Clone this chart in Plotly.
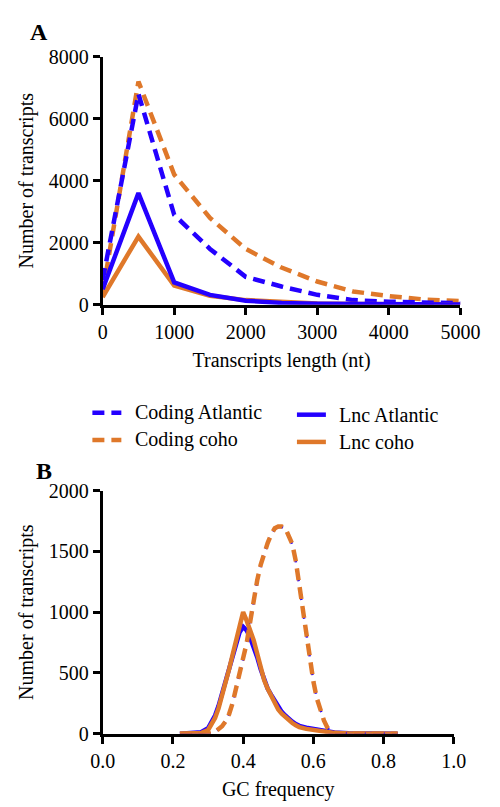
import plotly.graph_objects as go

# ---- Panel A: transcript length distribution ----
length_nt = [0, 500, 1000, 1500, 2000, 2500, 3000, 3500, 4000, 4500, 5000]
len_coding_atlantic = [800, 6800, 2900, 1800, 900, 590, 320, 150, 100, 70, 50]
len_coding_coho = [400, 7200, 4200, 2800, 1800, 1200, 750, 430, 280, 170, 120]
len_lnc_atlantic = [500, 3600, 720, 320, 130, 60, 30, 20, 12, 8, 5]
len_lnc_coho = [250, 2200, 620, 290, 150, 80, 40, 25, 15, 10, 6]

# ---- Panel B: GC frequency distribution ----
gc_coding = [0.22, 0.26, 0.30, 0.31, 0.32, 0.33, 0.34, 0.35, 0.36, 0.37, 0.38, 0.39,
             0.40, 0.41, 0.42, 0.43, 0.44, 0.45, 0.46, 0.47, 0.48, 0.49, 0.50, 0.51,
             0.52, 0.53, 0.54, 0.55, 0.56, 0.57, 0.58, 0.59, 0.60, 0.61, 0.62, 0.63,
             0.64, 0.65, 0.66, 0.67, 0.68, 0.70, 0.72, 0.76, 0.80, 0.84]
gc_coding_atlantic = [0, 0, 0, 2, 12, 35, 60, 100, 160, 250, 370, 490,
                      595, 735, 910, 1090, 1250, 1380, 1485, 1565, 1635, 1685, 1700, 1700,
                      1685, 1625, 1555, 1415, 1215, 1035, 815, 600, 430, 290, 190, 110,
                      50, 22, 9, 5, 3, 1, 0, 0, 0, 0]
gc_coding_coho = [0, 0, 0, 3, 15, 40, 62, 102, 162, 252, 372, 500,
                  605, 745, 920, 1100, 1260, 1390, 1490, 1570, 1640, 1690, 1705, 1705,
                  1690, 1630, 1560, 1420, 1220, 1040, 820, 600, 430, 290, 190, 110,
                  50, 20, 8, 4, 2, 1, 0, 0, 0, 0]

gc_lnc = [0.22, 0.25, 0.28, 0.30, 0.31, 0.32, 0.33, 0.34, 0.35, 0.36, 0.37, 0.38,
          0.39, 0.40, 0.41, 0.42, 0.43, 0.44, 0.45, 0.46, 0.47, 0.48, 0.49, 0.50,
          0.51, 0.52, 0.53, 0.54, 0.55, 0.56, 0.58, 0.60, 0.62, 0.64, 0.66, 0.70,
          0.75, 0.80, 0.84]
gc_lnc_atlantic = [0, 2, 12, 45, 90, 150, 230, 330, 440, 545, 650, 750,
                   835, 880, 850, 790, 720, 630, 530, 440, 370, 320, 270, 220,
                   180, 150, 120, 100, 80, 65, 50, 38, 28, 18, 10, 4,
                   1, 0, 0]
gc_lnc_coho = [0, 1, 6, 30, 75, 130, 210, 310, 420, 530, 650, 770,
               890, 1000, 930, 860, 770, 660, 540, 440, 370, 310, 250, 200,
               165, 135, 108, 88, 70, 55, 40, 30, 20, 12, 6, 3,
               1, 0, 0]

# Legend entries: label, colour key, dashed?
legend_labels = ["Coding Atlantic", "Coding coho", "Lnc Atlantic", "Lnc coho"]

BLUE = "#2400FF"
ORANGE = "#DF782A"
DASH = "12px,7px"
FONT = "Liberation Serif"
LW = 4.5

fig = go.Figure()

# Panel A traces
fig.add_trace(go.Scatter(x=length_nt, y=len_coding_coho, mode="lines",
                         line=dict(color=ORANGE, width=LW, dash=DASH),
                         xaxis="x", yaxis="y", showlegend=False))
fig.add_trace(go.Scatter(x=length_nt, y=len_coding_atlantic, mode="lines",
                         line=dict(color=BLUE, width=LW, dash=DASH),
                         xaxis="x", yaxis="y", showlegend=False))
fig.add_trace(go.Scatter(x=length_nt, y=len_lnc_coho, mode="lines",
                         line=dict(color=ORANGE, width=LW),
                         xaxis="x", yaxis="y", showlegend=False))
fig.add_trace(go.Scatter(x=length_nt, y=len_lnc_atlantic, mode="lines",
                         line=dict(color=BLUE, width=LW),
                         xaxis="x", yaxis="y", showlegend=False))

# Panel B traces
fig.add_trace(go.Scatter(x=gc_lnc, y=gc_lnc_atlantic, mode="lines",
                         line=dict(color=BLUE, width=LW),
                         xaxis="x2", yaxis="y2", showlegend=False))
fig.add_trace(go.Scatter(x=gc_lnc, y=gc_lnc_coho, mode="lines",
                         line=dict(color=ORANGE, width=LW),
                         xaxis="x2", yaxis="y2", showlegend=False))
fig.add_trace(go.Scatter(x=gc_coding, y=gc_coding_atlantic, mode="lines",
                         line=dict(color=BLUE, width=2.5, dash=DASH),
                         xaxis="x2", yaxis="y2", showlegend=False))
fig.add_trace(go.Scatter(x=gc_coding, y=gc_coding_coho, mode="lines",
                         line=dict(color=ORANGE, width=LW, dash=DASH),
                         xaxis="x2", yaxis="y2", showlegend=False))

W, H = 500, 807


def px_x(p):
    return p / W


def px_y(p):
    return 1 - p / H


axis_common = dict(showline=True, linecolor="black", linewidth=3,
                   ticks="outside", ticklen=7, tickwidth=3, tickcolor="black",
                   showgrid=False, zeroline=False,
                   tickfont=dict(family=FONT, size=20, color="black"),
                   title_font=dict(family=FONT, size=20, color="black"))

fig.update_layout(
    width=W, height=H,
    margin=dict(l=0, r=0, t=0, b=0),
    paper_bgcolor="white", plot_bgcolor="white",
    xaxis=dict(axis_common, domain=[px_x(96), px_x(479)], range=[0, 5000],
               tickvals=[0, 1000, 2000, 3000, 4000, 5000],
               title=dict(text="Transcripts length (nt)", standoff=12),
               anchor="y"),
    yaxis=dict(axis_common, domain=[px_y(302), px_y(47)], range=[0, 8000],
               tickvals=[0, 2000, 4000, 6000, 8000],
               title=dict(text="Number of transcripts", standoff=10),
               anchor="x"),
    xaxis2=dict(axis_common, domain=[px_x(96), px_x(472)], range=[0, 1],
                tickvals=[0, 0.2, 0.4, 0.6, 0.8, 1.0], tickformat=".1f",
                title=dict(text="GC frequency", standoff=12),
                anchor="y2"),
    yaxis2=dict(axis_common, domain=[px_y(743), px_y(493)], range=[0, 2000],
                tickvals=[0, 500, 1000, 1500, 2000],
                title=dict(text="Number of transcripts", standoff=10),
                anchor="x2"),
)

# Panel letters
fig.add_annotation(text="<b>A</b>", x=px_x(16), y=px_y(22), xref="paper", yref="paper",
                   xanchor="left", yanchor="middle", showarrow=False,
                   font=dict(family=FONT, size=24, color="black"))
fig.add_annotation(text="<b>B</b>", x=px_x(22), y=px_y(473), xref="paper", yref="paper",
                   xanchor="left", yanchor="middle", showarrow=False,
                   font=dict(family=FONT, size=24, color="black"))

# Legend drawn in two columns below panel A
legend_style = [
    (BLUE, DASH, 85, 413),
    (ORANGE, DASH, 85, 441),
    (BLUE, "solid", 304, 415),
    (ORANGE, "solid", 304, 443),
]
for label, (color, dash, x0, yy) in zip(legend_labels, legend_style):
    fig.add_shape(type="line", xref="paper", yref="paper",
                  x0=px_x(x0), x1=px_x(x0 + 31), y0=px_y(yy), y1=px_y(yy),
                  line=dict(color=color, width=LW, dash=dash))
    fig.add_annotation(text=label, x=px_x(x0 + 43), y=px_y(yy), xref="paper", yref="paper",
                       xanchor="left", yanchor="middle", showarrow=False,
                       font=dict(family=FONT, size=20, color="black"))

fig.write_html("out.html")
